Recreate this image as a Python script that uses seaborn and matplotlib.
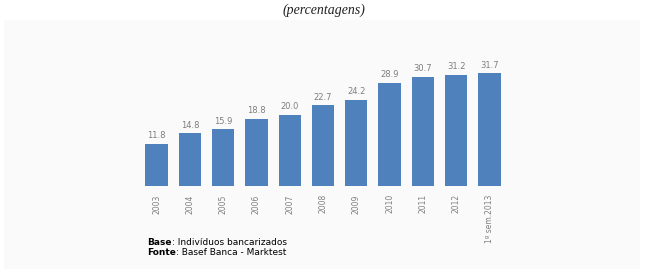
import seaborn as sns
import pandas as pd
import matplotlib.pyplot as plt
from matplotlib.patches import Rectangle

anos = ['2003', '2004', '2005', '2006', '2007', '2008', '2009', '2010', '2011', '2012', '1º sem.2013']
valores = [11.8, 14.8, 15.9, 18.8, 20.0, 22.7, 24.2, 28.9, 30.7, 31.2, 31.7]

df = pd.DataFrame({'ano': anos, 'valor': valores})

fig = plt.figure(figsize=(6.48, 2.69), dpi=100)
fig.patches.append(Rectangle((4 / 648, 0), 636 / 648, 249 / 269, transform=fig.transFigure,
                             facecolor='#fafafa', edgecolor='none', zorder=-10))
fig.text(0.5, 0.962, '(percentagens)', ha='center', va='center', fontsize=10,
         family='Liberation Serif', style='italic', color='#222222')

ax = fig.add_axes([0.216, 0.309, 0.565, 0.463])
ax.set_facecolor('none')
sns.barplot(data=df, x='ano', y='valor', color='#4f81bd', width=0.67, saturation=1, ax=ax)
for p, v in zip(ax.patches, valores):
    ax.text(p.get_x() + p.get_width() / 2, v + 1.0, f'{v:.1f}', ha='center', va='bottom',
            fontsize=6, color='#7f7f7f')

ax.set_ylim(0, 35)
ax.set_xlim(-0.5, len(anos) - 0.5)
ax.set_xlabel('')
ax.set_ylabel('')
ax.set_yticks([])
ax.tick_params(axis='x', length=0, labelsize=5.5, labelcolor='#7f7f7f', rotation=90, pad=6)
for s in ax.spines.values():
    s.set_visible(False)

t1 = fig.text(147 / 648, 1 - 245 / 269, 'Base', fontsize=6.5, weight='bold', va='baseline')
ax.annotate(': Indivíduos bancarizados', xy=(1, 0), xycoords=t1, fontsize=6.5,
            va='bottom', annotation_clip=False)
t2 = fig.text(147 / 648, 1 - 255 / 269, 'Fonte', fontsize=6.5, weight='bold', va='baseline')
ax.annotate(': Basef Banca - Marktest', xy=(1, 0), xycoords=t2, fontsize=6.5,
            va='bottom', annotation_clip=False)

fig.savefig('out.png', dpi=100)
